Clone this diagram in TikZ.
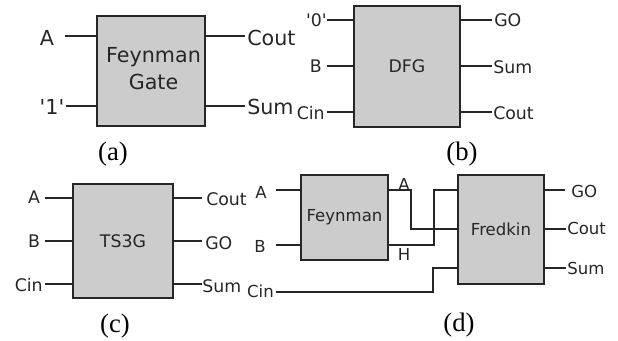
\documentclass[tikz,border=0pt]{standalone}
\usepackage{fontspec}
\newfontfamily\gatefont{DejaVu Sans}
\newfontfamily\capfont{Liberation Serif}
\definecolor{gategray}{HTML}{CCCCCC}
\definecolor{wiregray}{HTML}{262626}
\tikzset{
  gatebox/.style={draw=wiregray,fill=gategray,line width=1.1pt,inner sep=0pt,align=center,text=black!85},
  wire/.style={draw=wiregray,line width=0.95pt},
  pinlabel/.style={inner sep=0pt,text=black!85},
  caption/.style={inner sep=0pt,font=\capfont\fontsize{20}{22}\selectfont},
  sizea/.style={font=\gatefont\fontsize{15.5}{20}\selectfont},
  sizeb/.style={font=\gatefont\fontsize{13}{16}\selectfont},
  sizec/.style={font=\gatefont\fontsize{13}{15}\selectfont},
  sized/.style={font=\gatefont\fontsize{12.4}{15}\selectfont}
}
\begin{document}
\begin{tikzpicture}[x=0.75pt,y=-0.75pt]
\useasboundingbox (0,0) rectangle (618,340);
% Gate (a)
\node[gatebox,minimum width=81pt,minimum height=82.5pt] (gatea) at (151,71) {};
\node[pinlabel,sizea,align=center] (gateatext) at (153.5,68.5) {Feynman\\Gate};
\coordinate (aAin) at (65,36);
\coordinate (aOne) at (66,106);
\coordinate (aCoutend) at (245,36);
\coordinate (aSumend) at (245,106);
\draw[wire] (aAin) -- (aAin -| gatea.west);
\draw[wire] (aOne) -- (aOne -| gatea.west);
\draw[wire] (aCoutend -| gatea.east) -- (aCoutend);
\draw[wire] (aSumend -| gatea.east) -- (aSumend);
\node[pinlabel,sizea] (aA) at (47,38) {A};
\node[pinlabel,sizea] (aB) at (52,107) {'1'};
\node[pinlabel,sizea,anchor=west] (aCout) at (247,38) {Cout};
\node[pinlabel,sizea,anchor=west] (aSum) at (247,107) {Sum};
\node[caption] (capa) at (113,154) {(a)};
% Gate (b)
\node[gatebox,sizeb,minimum width=79.5pt,minimum height=90.75pt] (gateb) at (407,66.5) {DFG};
\coordinate (bAin) at (327,20);
\coordinate (bBin) at (327,66);
\coordinate (bCin) at (327,112);
\coordinate (bGOend) at (492,20);
\coordinate (bSumend) at (492,66);
\coordinate (bCoutend) at (492,112);
\draw[wire] (bAin) -- (bAin -| gateb.west);
\draw[wire] (bBin) -- (bBin -| gateb.west);
\draw[wire] (bCin) -- (bCin -| gateb.west);
\draw[wire] (bGOend -| gateb.east) -- (bGOend);
\draw[wire] (bSumend -| gateb.east) -- (bSumend);
\draw[wire] (bCoutend -| gateb.east) -- (bCoutend);
\node[pinlabel,sizeb,anchor=east] (bA) at (327,20) {'0'};
\node[pinlabel,sizeb,anchor=east] (bB) at (322,66) {B};
\node[pinlabel,sizeb,anchor=east] (bC) at (325,113) {Cin};
\node[pinlabel,sizeb,anchor=west] (bGO) at (494,20) {GO};
\node[pinlabel,sizeb,anchor=west] (bSum) at (493,67) {Sum};
\node[pinlabel,sizeb,anchor=west] (bCout) at (493,113) {Cout};
\node[caption] (capb) at (462,154) {(b)};
% Gate (c)
\node[gatebox,sizec,minimum width=75pt,minimum height=85.5pt] (gatec) at (123,241) {TS3G};
\coordinate (cAin) at (45,198);
\coordinate (cBin) at (45,241);
\coordinate (cCin) at (45,284);
\coordinate (cCoutend) at (202,198);
\coordinate (cGOend) at (202,241);
\coordinate (cSumend) at (202,284);
\draw[wire] (cAin) -- (cAin -| gatec.west);
\draw[wire] (cBin) -- (cBin -| gatec.west);
\draw[wire] (cCin) -- (cCin -| gatec.west);
\draw[wire] (cCoutend -| gatec.east) -- (cCoutend);
\draw[wire] (cGOend -| gatec.east) -- (cGOend);
\draw[wire] (cSumend -| gatec.east) -- (cSumend);
\node[pinlabel,sizec] (cA) at (34,197) {A};
\node[pinlabel,sizec] (cB) at (34,241) {B};
\node[pinlabel,sizec,anchor=east] (cC) at (43,285) {Cin};
\node[pinlabel,sizec,anchor=west] (cCout) at (206,199) {Cout};
\node[pinlabel,sizec,anchor=west] (cGO) at (205,243) {GO};
\node[pinlabel,sizec,anchor=west] (cSum) at (202,286) {Sum};
\node[caption] (capc) at (115,326) {(c)};
% Gate (d)
\node[gatebox,sized,minimum width=65.25pt,minimum height=63.75pt] (feynman) at (344.5,217.5) {Feynman};
\node[gatebox,sized,minimum width=64.5pt,minimum height=81.75pt] (fredkin) at (501,229.5) {Fredkin};
\coordinate (dAin) at (276,190);
\coordinate (dBin) at (276,245);
\coordinate (dCin) at (276,292);
\coordinate (dMid) at (411,229);
\coordinate (dHigh) at (434,190);
\coordinate (dLow) at (433,268);
\coordinate (dGOend) at (565,190);
\coordinate (dCoutend) at (566,229);
\coordinate (dSumend) at (566,268);
\draw[wire] (dAin) -- (dAin -| feynman.west);
\draw[wire] (dBin) -- (dBin -| feynman.west);
% Wires between the two gates
\draw[wire] (dAin -| feynman.east) -| (dMid) -- (dMid -| fredkin.west);
\draw[wire] (dBin -| feynman.east) -| (dHigh) -- (dHigh -| fredkin.west);
\draw[wire] (dCin) -| (dLow) -- (dLow -| fredkin.west);
\draw[wire] (dGOend -| fredkin.east) -- (dGOend);
\draw[wire] (dCoutend -| fredkin.east) -- (dCoutend);
\draw[wire] (dSumend -| fredkin.east) -- (dSumend);
\node[pinlabel,sized] (dA) at (261,192) {A};
\node[pinlabel,sized] (dB) at (260,246) {B};
\node[pinlabel,sized,anchor=east] (dC) at (274,291.5) {Cin};
\node[pinlabel,sized] (dAout) at (404,184) {A};
\node[pinlabel,sized] (dH) at (404,254) {H};
\node[pinlabel,sized,anchor=west] (dGO) at (571,191) {GO};
\node[pinlabel,sized,anchor=west] (dCout) at (567,228) {Cout};
\node[pinlabel,sized,anchor=west] (dSum) at (567,268) {Sum};
\node[caption] (capd) at (459,325) {(d)};
\end{tikzpicture}
\end{document}
